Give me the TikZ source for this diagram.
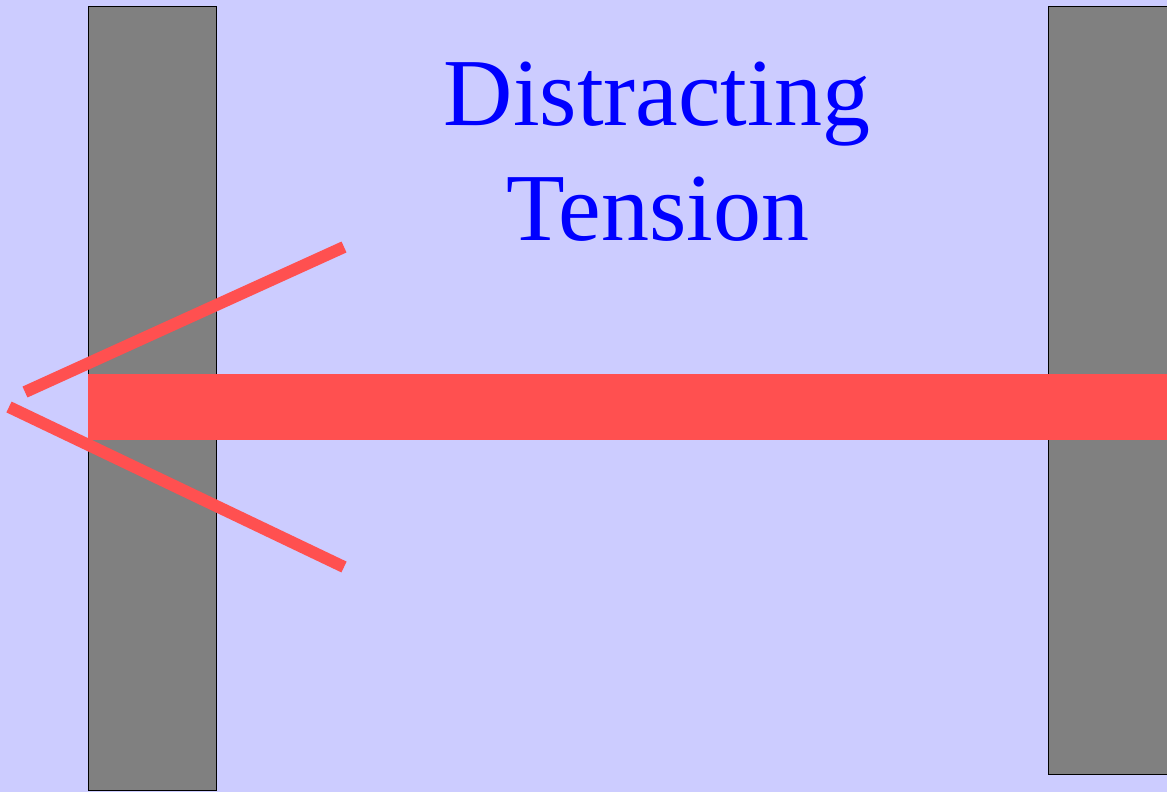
\documentclass[tikz,border=0pt]{standalone}
\usepackage{fontspec}
\setmainfont{Liberation Serif}
\usepackage{xcolor}
\usepackage{tikz}
\definecolor{bgblue}{HTML}{CCCCFF}
\definecolor{barred}{HTML}{FF5050}
\definecolor{txtblue}{HTML}{0000FF}

\begin{document}
\begin{tikzpicture}[x=1pt,y=-1pt,
wall/.style={draw=black,line width=1.6pt,fill=gray},rope/.style={barred,line width=12pt,line cap=butt},lbl/.style={text=txtblue,inner sep=0pt,font=\fontsize{96}{115}\selectfont}]
\fill[bgblue] (0,0) rectangle (1167,792);
\useasboundingbox (0,0) rectangle (1167,792);
\draw[wall] (88.5,6.5) rectangle (216.5,790.5);
\draw[wall] (1048.5,6.5) rectangle (1180,774.5);
\fill[barred] (88,374) rectangle (1167,440);
\coordinate (tipA) at (25,392); \coordinate (endA) at (344,247);
\coordinate (tipB) at (9,407); \coordinate (endB) at (344,567);
\draw[rope] (tipA)--(endA); \draw[rope] (tipB)--(endB);
\node[lbl,anchor=base] (word1) at (657,125) {Distracting};
\node[lbl,anchor=base] (word2) at (658,240) {Tension};
\end{tikzpicture}
\end{document}
